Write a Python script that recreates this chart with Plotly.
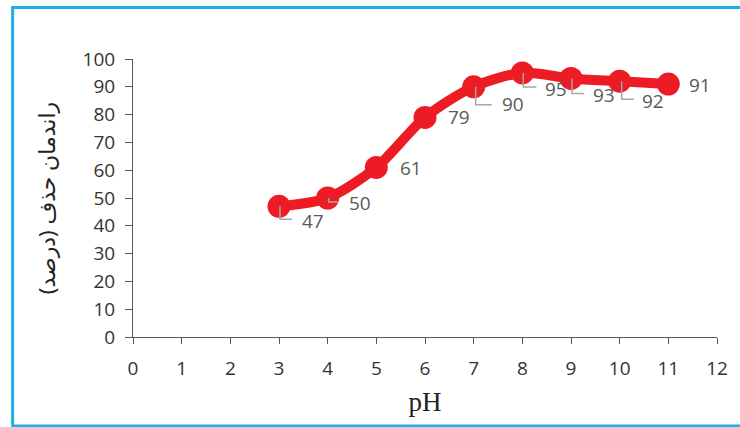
import plotly.graph_objects as go

# pH series and removal efficiency (%)
ph = [3, 4, 5, 6, 7, 8, 9, 10, 11]
removal = [47, 50, 61, 79, 90, 95, 93, 92, 91]

# label placement (pixel offsets from each point, screen y downwards)
label_dx = [34, 32, 35, 34, 39, 34, 33, 33, 32]
label_dy = [15, 5, 1, 0, 17, 16, 17, 20, 1]
# leader elbow (pixel offsets), None where no leader is drawn
leader = [(1, 13, 13), (1, 4, 10), None, None, (2, 18, 18),
          (1, 14, 14), (1, 15, 13), (2, 18, 14), None]

x_ticks = list(range(0, 13))
y_ticks = list(range(0, 101, 10))

RED = "#ED1C24"
AXIS = "#595959"
SANS = "Open Sans, Liberation Sans, sans-serif"

L, R, T, B = 133, 20, 59, 90
W, H = 740, 427

fig = go.Figure()
fig.add_trace(go.Scatter(
    x=ph, y=removal, mode="lines+markers",
    line=dict(color=RED, width=10, shape="spline", smoothing=0.8),
    marker=dict(color=RED, size=23),
    hoverinfo="x+y", showlegend=False,
))

annotations = []
shapes = []
for x, y, dx, dy, ld in zip(ph, removal, label_dx, label_dy, leader):
    annotations.append(dict(
        x=x, y=y, xref="x", yref="y", text=str(y), showarrow=False,
        xshift=dx, yshift=-dy, font=dict(size=19, color=AXIS, family=SANS),
    ))
    if ld:
        vx, vy, hx = ld
        shapes.append(dict(
            type="path", xref="x", yref="y",
            xsizemode="pixel", ysizemode="pixel", xanchor=x, yanchor=y,
            path=f"M {vx},0 L {vx},{-vy} L {hx},{-vy}",
            line=dict(color="#A6A6A6", width=1.5), layer="above",
        ))

pw, ph_px = W - L - R, H - T - B
# outer frame of the chart area (open on the right)
shapes.append(dict(
    type="rect", xref="paper", yref="paper",
    x0=(12 - L) / pw, x1=(W + 60 - L) / pw,
    y0=(H - B - 426) / ph_px, y1=(H - B - 7.5) / ph_px,
    line=dict(color="#1CB0E8", width=3), fillcolor="rgba(0,0,0,0)", layer="below",
))

fig.update_layout(
    width=W, height=H, margin=dict(l=L, r=R, t=T, b=B),
    paper_bgcolor="white", plot_bgcolor="white",
    annotations=annotations, shapes=shapes,
    xaxis=dict(
        range=[0, 12], tickvals=x_ticks, ticktext=[str(v) for v in x_ticks],
        showgrid=False, zeroline=False, showline=True, linecolor=AXIS, linewidth=1,
        ticks="outside", ticklen=6, tickcolor=AXIS, ticklabelstandoff=8,
        tickfont=dict(size=19, color="#333333", family=SANS),
        title=dict(text="pH", font=dict(size=27, color="#222", family="Liberation Serif, serif"),
                   standoff=12),
    ),
    yaxis=dict(
        range=[0, 100], tickvals=y_ticks, ticktext=[str(v) for v in y_ticks],
        showgrid=False, zeroline=False, showline=True, linecolor=AXIS, linewidth=1,
        ticks="outside", ticklen=7, tickcolor=AXIS, ticklabelstandoff=6,
        tickfont=dict(size=19, color="#333333", family=SANS),
        title=dict(text="راندمان حذف (درصد)",
                   font=dict(size=22, color="#222", family="Noto Sans, DejaVu Sans, sans-serif"),
                   standoff=20),
    ),
)

fig.write_html("out.html")
